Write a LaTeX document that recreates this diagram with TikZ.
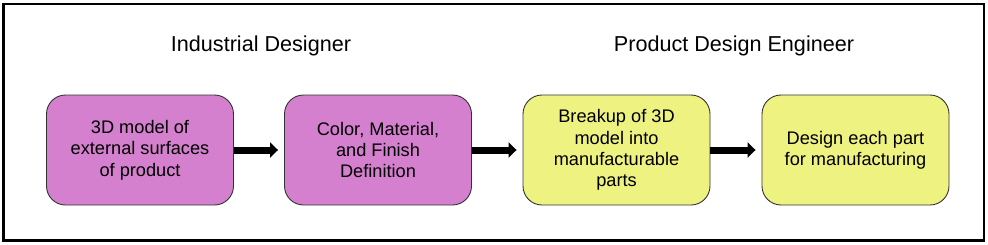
\documentclass[tikz,border=0pt]{standalone}
\usepackage{fontspec}
\setmainfont{Liberation Sans}
\usetikzlibrary{arrows.meta,positioning}
\definecolor{idpink}{RGB}{213,128,206}
\definecolor{pdyellow}{RGB}{237,242,128}
\definecolor{boxedge}{RGB}{51,51,51}

\begin{document}
\begin{tikzpicture}[x=1pt,y=-1pt,
    stage/.style={draw=boxedge,line width=0.9pt,rounded corners=19pt,
      minimum width=187pt,minimum height=110pt,align=center,
      font=\fontsize{18.2}{21.3}\selectfont},
    role/.style={font=\fontsize{21.6}{25}\selectfont},
    flow/.style={line width=7pt,-{Triangle[length=8pt,width=15pt]},shorten >=6pt}]
  \useasboundingbox (0,0) rectangle (988,244);
  \draw[line width=2.5pt] (3.5,3.8) rectangle (984,240.5);
  % who does what
  \node[role] (idlbl) at (261,46) {Industrial Designer};
  \node[role] (pdlbl) at (734,46) {Product Design Engineer};
  % the four steps
  \node[stage,fill=idpink] (surf) at (140,150) {3D model of\\external surfaces\\of product};
  \node[stage,fill=idpink] (cmf) at (378,150) {Color, Material,\\and Finish\\Definition};
  \node[stage,fill=pdyellow] (brk) at (616.5,150) {Breakup of 3D\\model into\\manufacturable\\parts};
  \node[stage,fill=pdyellow] (dfm) at (855.5,150) {Design each part\\for manufacturing};
  \foreach \a/\b in {surf/cmf,cmf/brk,brk/dfm}
    \draw[flow] (\a) -- (\b);
\end{tikzpicture}
\end{document}
